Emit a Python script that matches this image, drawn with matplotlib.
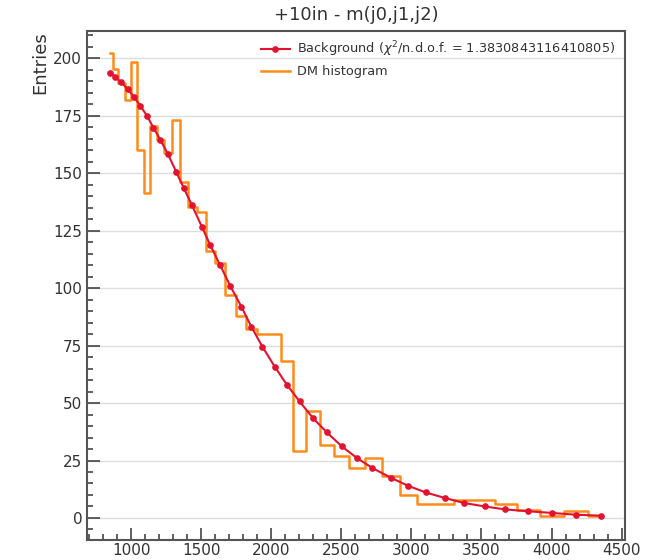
"""Background fit vs DM histogram, m(j0,j1,j2)."""
import matplotlib
matplotlib.use("Agg")
import matplotlib.pyplot as plt
from matplotlib.ticker import MultipleLocator

# bin centres (shared by fit and histogram)
mass = [852, 888, 929, 976, 1019, 1066, 1114, 1159, 1209, 1262,
        1321, 1376, 1433, 1504, 1564, 1634, 1707, 1786, 1857, 1936,
        2024, 2111, 2202, 2297, 2397, 2504, 2611, 2722, 2857, 2976,
        3102, 3238, 3376, 3524, 3670, 3833, 4000, 4174, 4350]

# background fit evaluated at bin centres
fit_vals = [193.7, 191.7, 189.6, 186.6, 183.3, 179.3, 174.9, 169.8, 164.5, 158.4,
            150.7, 143.5, 136.2, 126.8, 118.8, 110.1, 101.0, 92.0, 83.3, 74.6,
            65.9, 58.0, 50.7, 43.5, 37.2, 31.1, 26.1, 21.7, 17.4, 14.0,
            11.1, 8.7, 6.5, 5.0, 3.7, 2.9, 2.2, 1.4, 1.0]

# DM histogram counts
dm_counts = [202.2, 195.2, 189.5, 182.0, 198.3, 160.1, 141.3, 170.6, 164.5, 158.7,
             173.0, 146.2, 135.2, 133.3, 116.3, 111.1, 97.1, 87.7, 82.3, 80.2,
             80.2, 68.1, 29.0, 46.4, 31.9, 26.8, 21.7, 26.0, 18.1, 10.1,
             6.2, 6.2, 7.7, 7.7, 6.0, 3.3, 0.7, 2.9, 0.7]

CHI2_NDOF = "1.3830843116410805"
TITLE = "+10in - m(j0,j1,j2)"

FIT_COLOR = "#e3122f"
HIST_COLOR = "#ff8c1a"
TEXT_COLOR = "#333333"

fig = plt.figure(figsize=(6.46, 5.6), dpi=100)
ax = fig.add_axes([0.1347, 0.0357, 0.8323, 0.9093])

ax.step(mass, dm_counts, where="mid", color=HIST_COLOR, lw=1.8,
        label="DM histogram", zorder=2)
ax.plot(mass, fit_vals, "-o", color=FIT_COLOR, lw=1.5, ms=3.8,
        label=rf"Background ($\chi^2$/n.d.o.f. = {CHI2_NDOF})", zorder=3)

ax.set_xlim(685, 4522)
ax.set_ylim(-9.6, 212)
ax.xaxis.set_major_locator(MultipleLocator(500))
ax.xaxis.set_minor_locator(MultipleLocator(100))
ax.yaxis.set_major_locator(MultipleLocator(25))
ax.yaxis.set_minor_locator(MultipleLocator(5))
ax.tick_params(which="both", direction="in", colors="#444444",
               labelcolor=TEXT_COLOR, labelsize=11, width=1.2)
ax.tick_params(which="major", length=9)
ax.tick_params(which="minor", length=4.5)
ax.tick_params(axis="x", pad=2.5)
ax.grid(axis="y", which="major", color="#dddddd", lw=1.0, zorder=0)
ax.set_axisbelow(True)
for sp in ax.spines.values():
    sp.set_color("#555555")
    sp.set_linewidth(1.5)

ax.set_ylabel("Entries", loc="top", fontsize=13, color=TEXT_COLOR, labelpad=3)
ax.set_title(TITLE, fontsize=13, color=TEXT_COLOR, pad=8)

# legend: fit first, histogram second
handles, labels = ax.get_legend_handles_labels()
ax.legend(handles[::-1], labels[::-1], loc="upper right", fontsize=9.3,
          frameon=False, handlelength=2.2, handletextpad=0.6, labelspacing=0.45,
          labelcolor=TEXT_COLOR, borderaxespad=0.3)

fig.savefig("out.png", dpi=100)
